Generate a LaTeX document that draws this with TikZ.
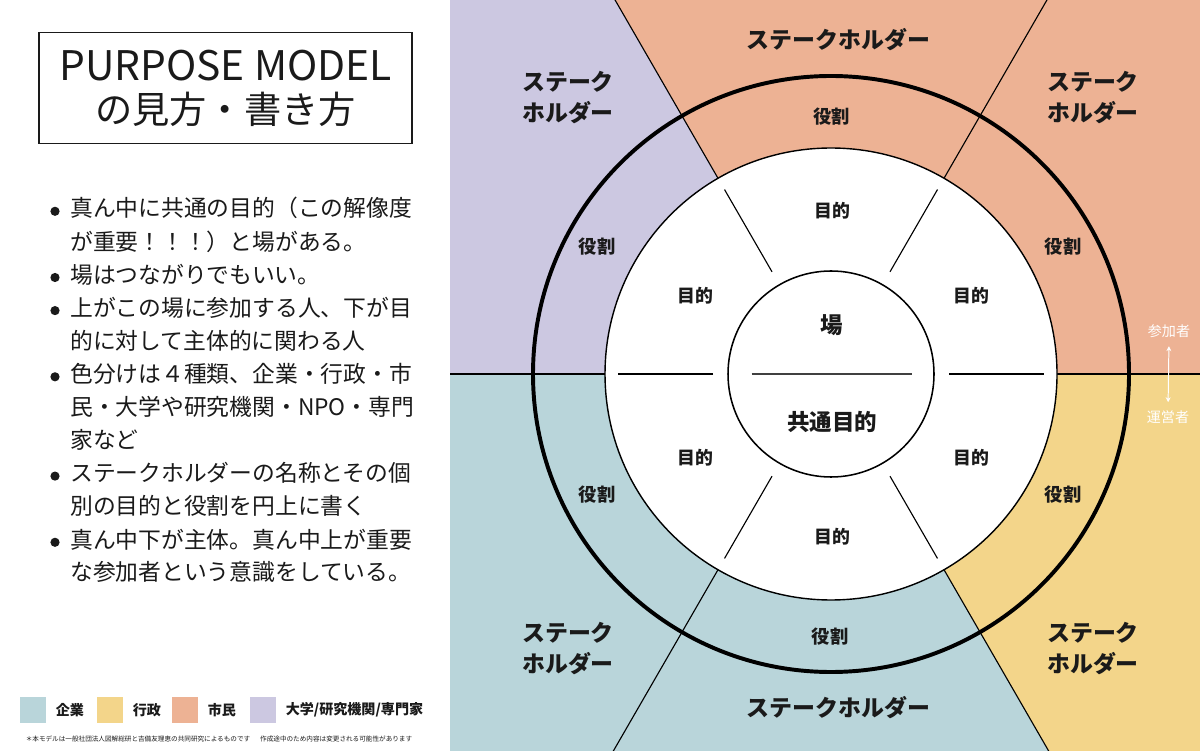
\documentclass[tikz,border=0pt]{standalone}
\usepackage{fontspec}
\setmainfont{Noto Sans CJK JP}
\usepackage{tikz}
\usetikzlibrary{positioning,calc,arrows.meta}

\definecolor{shimin}{RGB}{237,178,148}
\definecolor{daigaku}{RGB}{204,200,225}
\definecolor{kigyo}{RGB}{185,213,218}
\definecolor{gyosei}{RGB}{243,213,138}
\definecolor{inkgray}{RGB}{26,26,26}

\tikzset{
  sectorline/.style={black, line width=0.8pt},
  ringline/.style={black, line width=2.8pt},
  segline/.style={black, line width=0.8pt},
  bullettxt/.style={anchor=west, inner sep=0pt, text=inkgray, font=\fontsize{16.2}{20}\selectfont},
  titlebox/.style={draw=inkgray, line width=1.1pt, minimum width=9.33cm, minimum height=2.78cm,
    align=center, text=inkgray, font=\fontsize{26.5}{30.6}\selectfont},
  stake/.style={align=center, inner sep=0pt, text=inkgray, font=\bfseries\fontsize{16.3}{22}\selectfont},
  role/.style={inner sep=0pt, text=inkgray, font=\bfseries\fontsize{13}{15}\selectfont},
  goal/.style={inner sep=0pt, text=inkgray, font=\bfseries\fontsize{12.7}{15}\selectfont},
  hub/.style={inner sep=0pt, text=inkgray, font=\bfseries\fontsize{16}{18}\selectfont},
  sidetxt/.style={inner sep=0pt, text=white, font=\fontsize{10}{12}\selectfont},
  swatch/.style={minimum width=0.65cm, minimum height=0.65cm, inner sep=0pt},
  legtxt/.style={anchor=west, inner sep=0pt, text=inkgray, font=\bfseries\fontsize{10}{12}\selectfont},
}

\begin{document}
\begin{tikzpicture}[x=0.025cm, y=0.025cm]
    \useasboundingbox (0,0) rectangle (1200,750);
    \fill[white] (0,0) rectangle (1200,750);
    \coordinate (c) at (831,376);

    % Coloured sectors (right panel)
    \begin{scope}
        \clip (450,0) rectangle (1200,750);
        \fill[shimin] (c) -- ($(c)+(0:900)$) arc[start angle=0, end angle=120, radius=900] -- cycle;
        \fill[daigaku] (c) -- ($(c)+(120:900)$) arc[start angle=120, end angle=180, radius=900] -- cycle;
        \fill[kigyo] (c) -- ($(c)+(180:900)$) arc[start angle=180, end angle=300, radius=900] -- cycle;
        \fill[gyosei] (c) -- ($(c)+(300:900)$) arc[start angle=300, end angle=360, radius=900] -- cycle;
        \foreach \a in {60,120,240,300}
            \draw[sectorline] (c) -- ($(c)+(\a:900)$);
        \draw[sectorline] (450,376) -- (1200,376);
    \end{scope}

    % Rings
    \draw[ringline] (c) circle[radius=298];
    \filldraw[fill=white, draw=black, line width=1pt] (c) circle[radius=226];
    \foreach \a in {0,60,...,300}
        \draw[segline] ($(c)+(\a:118)$) -- ($(c)+(\a:213)$);
    \draw[black, line width=1.1pt] (c) circle[radius=103];
    \draw[black!75, line width=1.1pt] (751.5,376) -- (911.5,376);

    % Centre
    \node[hub] (ba) at (832,425) {場};
    \node[hub] (kyotsu) at (832,328.3) {共通目的};

    % Goals
    \node[goal] (goalT)  at (832.5,539) {目的};
    \node[goal] (goalUL) at (695.3,454.3) {目的};
    \node[goal] (goalUR) at (971,454.3) {目的};
    \node[goal] (goalLL) at (695.3,292.3) {目的};
    \node[goal] (goalLR) at (971,292.3) {目的};
    \node[goal] (goalB)  at (832.3,213.3) {目的};

    % Roles
    \node[role] (roleT)  at (831.7,633.3) {役割};
    \node[role] (roleUL) at (597,503.3) {役割};
    \node[role] (roleUR) at (1063,503.3) {役割};
    \node[role] (roleLL) at (597,255) {役割};
    \node[role] (roleLR) at (1063,255) {役割};
    \node[role] (roleB)  at (830,113.3) {役割};

    % Stakeholders
    \node[stake] (stT)  at (838.5,710) {ステークホルダー};
    \node[stake] (stB)  at (838.5,42) {ステークホルダー};
    \node[stake] (stUL) at (568,652.5) {ステーク\\ホルダー};
    \node[stake] (stUR) at (1093,652.5) {ステーク\\ホルダー};
    \node[stake] (stLL) at (568,101.5) {ステーク\\ホルダー};
    \node[stake] (stLR) at (1093,101.5) {ステーク\\ホルダー};

    % Participants / organisers
    \node[sidetxt] (sanka) at (1169,418.3) {参加者};
    \node[sidetxt] (unei) at (1168,333.3) {運営者};
    \draw[white, line width=0.7pt, {Stealth[length=3.5pt,width=3.5pt]}-{Stealth[length=3.5pt,width=3.5pt]},
        shorten <=5.5pt, shorten >=5.5pt] (sanka.south) -- (unei.north);

    % Title
    \node[titlebox] (title) at (225.5,662) {{\fontsize{29}{30.6}\selectfont PURPOSE MODEL}\\の見方・書き方};

    % Bullet list
    \foreach \ln [count=\i from 0] in {真ん中に共通の目的（この解像度,が重要！！！）と場がある。,場はつながりでもいい。,上がこの場に参加する人、下が目,的に対して主体的に関わる人,色分けは４種類、企業・行政・市,民・大学や研究機関・NPO・専門,家など,ステークホルダーの名称とその個,別の目的と役割を円上に書く,真ん中下が主体。真ん中上が重要,な参加者という意識をしている。}
        \node[bullettxt] (line\i) at (70,541.7-33.1*\i) {\ln};
    \foreach \i in {0,2,3,5,8,10}
        \fill[inkgray] ($(line\i.west)+(-15,-3)$) circle[radius=4.6];

    % Legend
    \node[swatch, fill=kigyo] (swA) at (33,40) {};
    \node[swatch, fill=gyosei] (swB) at (110,40) {};
    \node[swatch, fill=shimin] (swC) at (185,40) {};
    \node[swatch, fill=daigaku] (swD) at (263,40) {};
    \node[legtxt, right=0.23cm of swA] (legA) {企業};
    \node[legtxt, right=0.23cm of swB] (legB) {行政};
    \node[legtxt, right=0.23cm of swC] (legC) {市民};
    \node[legtxt, right=0.23cm of swD] (legD) {大学/研究機関/専門家};

    % Footnote
    \node[inner sep=0pt, text=inkgray, font=\fontsize{4.7}{5}\selectfont] (note) at (219,11)
        {＊本モデルは一般社団法人図解総研と吉備友理恵の共同研究によるものです\hspace{1.5em}作成途中のため内容は変更される可能性があります};
\end{tikzpicture}
\end{document}
